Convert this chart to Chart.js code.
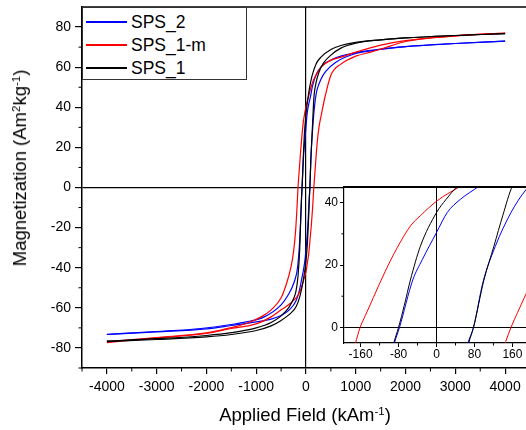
<!DOCTYPE html>
<html lang="en">
<head>
<meta charset="UTF-8">
<title>Hysteresis loops</title>
<script src="https://cdn.jsdelivr.net/npm/chart.js@4.4.0/dist/chart.umd.min.js"></script>
<style>
  html, body { margin: 0; padding: 0; background: #fff; overflow: hidden; }
  #wrap { position: relative; width: 526px; height: 430px; overflow: hidden;
    font-family: "Liberation Sans", Arial, sans-serif; color: #000; }
  #mainBox { position: absolute; left: 0; top: 0; width: 530px; height: 430px; }
  #insetBox { position: absolute; left: 300px; top: 180px; width: 229px; height: 185px; }
  #legend {
    position: absolute; left: 82px; top: 7px; width: 163px; height: 71px;
    border: 1px solid #333; background: #fff; font-size: 17.5px;
  }
  #legend .row { position: absolute; left: 0; height: 22px; line-height: 22px; white-space: nowrap; }
  #legend .swatch { position: absolute; left: 3px; top: 10px; width: 41px; height: 2px; }
  #legend .lbl { position: absolute; left: 48px; top: 0; }
  .axTitle { position: absolute; font-size: 18.5px; white-space: nowrap; line-height: 20px; }
  .axTitle sup { font-size: 0.62em; line-height: 0; vertical-align: 0.55em; }
  #xTitle { left: 305px; top: 415px; transform: translate(-50%, -50%); }
  #yTitle { left: 20px; top: 168px; transform: translate(-50%, -50%) rotate(-90deg); }
</style>
</head>
<body>
<div id="wrap">
  <div id="mainBox"><canvas id="mainCanvas" width="530" height="430"></canvas></div>
  <div id="insetBox"><canvas id="insetCanvas" width="229" height="185"></canvas></div>
  <div id="legend"></div>
  <div id="xTitle" class="axTitle">Applied Field (kAm<sup>-1</sup>)</div>
  <div id="yTitle" class="axTitle">Magnetization (Am<sup>2</sup>kg<sup>-1</sup>)</div>
</div>
<script>
// series names / colours (legend order)
const seriesNames = ['SPS_2', 'SPS_1-m', 'SPS_1'];
const seriesColors = ['#0000ff', '#ff0000', '#000000'];

// axis ticks
const mainXTicks = [-4000, -3000, -2000, -1000, 0, 1000, 2000, 3000, 4000];
const mainXMinor = [-4500, -3500, -2500, -1500, -500, 500, 1500, 2500, 3500];
const mainYTicks = [-80, -60, -40, -20, 0, 20, 40, 60, 80];
const mainYMinor = [-90, -70, -50, -30, -10, 10, 30, 50, 70];
const insetXTicks = [-160, -80, 0, 80, 160];
const insetXMinor = [-120, -40, 40, 120];
const insetYTicks = [0, 20, 40];
const insetYMinor = [10, 30];

// SPS_1 (black) - descending branch (field decreasing), listed by increasing field
const sps1DescH = [-4000, -3000, -2000, -1500, -1000, -700, -500, -350, -260, -200, -160, -125, -105, -90, -80, -68, -55, -34, 0, 20, 44, 70, 120, 200, 300, 500, 700, 1000, 1500, 2000, 3000, 4000];
const sps1DescM = [-76.5, -75.4, -73.8, -72.4, -70.0, -67.3, -64.0, -60.0, -56.0, -51.5, -44.0, -30.0, -15.0, -5.0, 0.0, 7.0, 15.2, 26.0, 36.8, 41.0, 45.3, 49.5, 55.5, 61.5, 65.0, 68.8, 70.8, 72.4, 73.6, 74.6, 75.8, 76.7];
// SPS_1 (black) - ascending branch
const sps1AscH = [-4000, -3000, -2000, -1500, -1000, -700, -500, -300, -200, -120, -60, 0, 30, 55, 68, 78, 100, 121, 140, 160, 200, 260, 350, 500, 700, 1000, 1500, 2000, 3000, 4000];
const sps1AscM = [-76.8, -75.8, -74.5, -73.3, -71.3, -69.0, -66.3, -62.5, -59.5, -54.0, -47.0, -36.5, -27.0, -14.0, -5.0, 0.0, 15.2, 26.0, 36.0, 45.3, 52.0, 57.5, 62.0, 66.0, 69.5, 72.0, 73.6, 74.6, 75.8, 76.7];

// SPS_2 (blue)
const sps2DescH = [-4000, -3000, -2110, -1500, -1200, -840, -500, -368, -235, -170, -130, -105, -88.7, -78, -50, -30, 0, 22.6, 50, 89.6, 130, 200, 335, 500, 700, 1000, 1500, 2000, 3000, 4000];
const sps2DescM = [-73.2, -71.8, -70.3, -68.3, -67.0, -64.5, -58.5, -54.0, -47.0, -40.0, -28.0, -15.0, -5.0, 0.0, 15.2, 21.7, 30.4, 36.8, 41.0, 45.3, 50.5, 56.0, 61.0, 63.5, 65.5, 67.2, 69.0, 70.2, 71.8, 73.0];
const sps2AscH = [-4000, -3000, -2000, -1500, -1000, -700, -500, -335, -200, -130, -90, -50, -20, 0, 30, 66, 78, 98, 124, 157, 188, 220, 300, 400, 600, 1000, 1500, 2000, 3000, 4000];
const sps2AscM = [-73.3, -72.0, -70.5, -68.8, -67.0, -65.6, -63.8, -61.0, -56.5, -51.0, -46.0, -41.0, -36.0, -31.0, -22.0, -5.0, 0.0, 14.5, 26.0, 36.8, 44.0, 48.5, 54.0, 58.0, 62.5, 66.8, 68.8, 70.2, 71.8, 73.0];

// SPS_1-m (red)
const sps1mDescH = [-4000, -3000, -2000, -1500, -1200, -900, -700, -500, -380, -300, -250, -210, -185, -171, -161, -150, -133, -108, -83, -55, -34, 1.4, 51, 100, 167, 300, 500, 700, 1000, 1500, 2000, 3000, 4000];
const sps1mDescM = [-77.0, -74.8, -72.5, -69.8, -67.8, -64.5, -61.0, -55.0, -47.0, -39.5, -32.0, -22.0, -12.0, -5.1, 0.0, 3.8, 9.6, 18.0, 25.5, 32.5, 35.8, 40.6, 45.3, 50.0, 54.5, 60.0, 63.5, 65.0, 67.5, 71.0, 73.2, 75.6, 77.0];
const sps1mAscH = [-4000, -3000, -2000, -1500, -1000, -700, -500, -300, -167, -100, -51, 0, 34, 55, 83, 108, 133, 146, 157, 171, 188, 220, 260, 310, 380, 500, 700, 1000, 1300, 1500, 2000, 3000, 4000];
const sps1mAscM = [-77.3, -75.0, -72.8, -70.3, -68.0, -64.5, -61.0, -57.5, -54.0, -50.5, -46.5, -42.0, -36.5, -33.0, -25.5, -18.5, -10.0, -4.5, 0.0, 4.8, 10.5, 21.0, 30.0, 36.5, 45.0, 56.0, 61.5, 65.5, 67.5, 69.0, 72.8, 75.6, 77.0];

const FONT = '"Liberation Sans", Arial, sans-serif';
Chart.defaults.font.family = FONT;
Chart.defaults.color = '#000';

function pts(hs, ms) {
  return hs.map((h, i) => ({ x: h, y: ms[i] }));
}

function makeSets(width) {
  const branches = [
    [sps1DescH, sps1DescM, 2, 1], [sps1AscH, sps1AscM, 2, 1],
    [sps1mDescH, sps1mDescM, 1, 2], [sps1mAscH, sps1mAscM, 1, 2],
    [sps2DescH, sps2DescM, 0, 3], [sps2AscH, sps2AscM, 0, 3]
  ];
  return branches.map(b => ({
    label: seriesNames[b[2]],
    data: pts(b[0], b[1]),
    borderColor: seriesColors[b[2]],
    borderWidth: width,
    pointRadius: 0,
    fill: false,
    cubicInterpolationMode: 'monotone',
    order: b[3]
  }));
}

// short minor ticks, top frame line
const frameAndMinor = {
  id: 'frameAndMinor',
  beforeDraw(chart, args, opts) {
    if (!opts.bg) return;
    const { ctx, chartArea } = chart;
    ctx.save();
    ctx.fillStyle = '#fff';
    ctx.fillRect(chartArea.left, chartArea.top, chartArea.right - chartArea.left, chartArea.bottom - chartArea.top);
    ctx.restore();
  },
  afterDraw(chart, args, opts) {
    const { ctx, chartArea, scales } = chart;
    ctx.save();
    ctx.strokeStyle = '#000';
    ctx.lineWidth = 1;
    opts.x.forEach(v => {
      const px = scales.x.getPixelForValue(v);
      ctx.beginPath();
      ctx.moveTo(px, chartArea.bottom);
      ctx.lineTo(px, chartArea.bottom + opts.len);
      ctx.stroke();
    });
    opts.y.forEach(v => {
      const py = scales.y.getPixelForValue(v);
      ctx.beginPath();
      ctx.moveTo(chartArea.left, py);
      ctx.lineTo(chartArea.left - opts.len, py);
      ctx.stroke();
    });
    ctx.lineWidth = opts.frame;
    ctx.beginPath();
    ctx.moveTo(chartArea.left, chartArea.top);
    ctx.lineTo(chartArea.right, chartArea.top);
    ctx.stroke();
    ctx.restore();
  }
};

function zeroLine(c) {
  return c.tick && c.tick.value === 0 ? '#000' : 'rgba(0,0,0,0)';
}

function fitY(w) {
  return s => { s.width = w; s.paddingTop = 0; s.paddingBottom = 0; };
}
function fitX(h) {
  return s => { s.height = h; s.paddingLeft = 0; s.paddingRight = 0; };
}

// main chart
const mainChart = new Chart(document.getElementById('mainCanvas'), {
  type: 'line',
  data: { datasets: makeSets(1.2) },
  plugins: [frameAndMinor],
  options: {
    responsive: false,
    animation: false,
    layout: { padding: { top: 7, right: 0, left: 0, bottom: 0 } },
    plugins: {
      legend: { display: false },
      tooltip: { enabled: false },
      frameAndMinor: { x: mainXMinor, y: mainYMinor, len: 3.5, frame: 1.5, bg: false }
    },
    scales: {
      x: {
        type: 'linear', min: -4500, max: 4500,
        afterBuildTicks: s => { s.ticks = mainXTicks.map(v => ({ value: v })); },
        afterFit: fitX(62),
        ticks: { callback: v => String(v), font: { size: 14 }, color: '#000', padding: 5, maxRotation: 0, autoSkip: false },
        grid: { color: zeroLine, tickColor: '#000', tickLength: 6, lineWidth: 1.2 },
        border: { color: '#000', width: 1.5 }
      },
      y: {
        type: 'linear', min: -90, max: 90,
        afterBuildTicks: s => { s.ticks = mainYTicks.map(v => ({ value: v })); },
        afterFit: fitY(82),
        ticks: { callback: v => String(v), font: { size: 14 }, color: '#000', padding: 4, autoSkip: false },
        grid: { color: zeroLine, tickColor: '#000', tickLength: 7, lineWidth: 1.2 },
        border: { color: '#000', width: 1.5 }
      }
    }
  }
});

// inset zoom on the coercive region
const insetChart = new Chart(document.getElementById('insetCanvas'), {
  type: 'line',
  data: { datasets: makeSets(1) },
  plugins: [frameAndMinor],
  options: {
    responsive: false,
    animation: false,
    layout: { padding: { top: 7, right: 0, left: 0, bottom: 0 } },
    plugins: {
      legend: { display: false },
      tooltip: { enabled: false },
      frameAndMinor: { x: insetXMinor, y: insetYMinor, len: 2.5, frame: 2, bg: true }
    },
    scales: {
      x: {
        type: 'linear', min: -195, max: 195,
        afterBuildTicks: s => { s.ticks = insetXTicks.map(v => ({ value: v })); },
        afterFit: fitX(22),
        ticks: { callback: v => String(v), font: { size: 12 }, color: '#000', padding: 0, maxRotation: 0, autoSkip: false },
        grid: { color: zeroLine, tickColor: '#000', tickLength: 4, lineWidth: 1 },
        border: { color: '#000', width: 1.2 }
      },
      y: {
        type: 'linear', min: -5, max: 45,
        afterBuildTicks: s => { s.ticks = insetYTicks.map(v => ({ value: v })); },
        afterFit: fitY(44),
        ticks: { callback: v => String(v), font: { size: 12 }, color: '#000', padding: 2, autoSkip: false },
        grid: { color: zeroLine, tickColor: '#000', tickLength: 4, lineWidth: 1 },
        border: { color: '#000', width: 1.2 }
      }
    }
  }
});

// legend box
const legendEl = document.getElementById('legend');
seriesNames.forEach((name, i) => {
  const row = document.createElement('div');
  row.className = 'row';
  row.style.top = (3 + i * 23) + 'px';
  row.style.width = '160px';
  const sw = document.createElement('span');
  sw.className = 'swatch';
  sw.style.background = seriesColors[i];
  const lb = document.createElement('span');
  lb.className = 'lbl';
  lb.textContent = name;
  row.appendChild(sw);
  row.appendChild(lb);
  legendEl.appendChild(row);
});
</script>
</body>
</html>
